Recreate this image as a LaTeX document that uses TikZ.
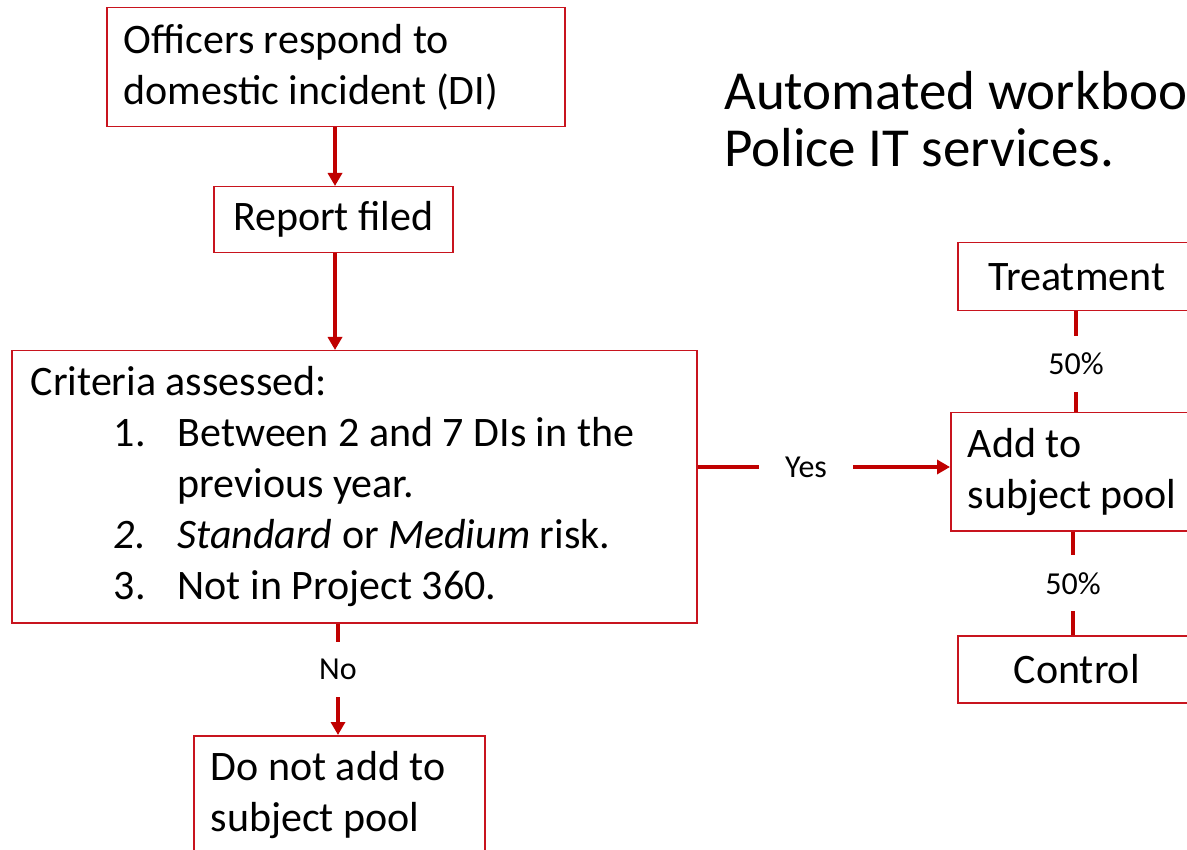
\documentclass[tikz,border=0pt]{standalone}
\usepackage{fontspec}
\setmainfont{Carlito}
\usetikzlibrary{arrows.meta,calc}
\definecolor{dred}{RGB}{192,0,0}
\definecolor{bred}{RGB}{200,20,30}
\begin{document}
\begin{tikzpicture}[x=1pt,y=-1pt,
  box/.style={draw=bred, line width=1.5pt, rectangle, anchor=north west, inner ysep=0pt, inner xsep=17pt,
    font=\fontsize{42}{51}\selectfont, align=flush left},
  conn/.style={draw=dred, line width=4pt},
  arr/.style={conn, -{Triangle[length=13pt,width=14pt]}},
  lbl/.style={fill=white, font=\fontsize{32}{38}\selectfont, text=black, inner xsep=26pt, inner ysep=17pt}
]
\useasboundingbox (0,0) rectangle (1187,850);
\clip (0,0) rectangle (1187,850);
\fill[white] (0,0) rectangle (1187,850);

\node[box, minimum width=458pt, minimum height=119pt, text width=424pt] (di) at (106,7)
  {Officers respond to\\domestic incident (DI)};
\node[box, minimum width=239pt, minimum height=66pt, align=center, inner xsep=0pt] (rep) at (213,186)
  {Report filed};
\node[box, minimum width=685pt, minimum height=272pt, text width=647pt, inner xsep=19pt] (crit) at (11,350)
  {Criteria assessed:\\
   \hspace*{83pt}\makebox[64pt][l]{1.}Between 2 and 7 DIs in the\\
   \hspace*{147pt}previous year.\\
   \hspace*{83pt}\makebox[64pt][l]{\itshape 2.}\textit{Standard} or \textit{Medium} risk.\\
   \hspace*{83pt}\makebox[64pt][l]{3.}Not in Project 360.};
\node[box, minimum width=249pt, minimum height=118pt, text width=215pt] (add) at (950,412)
  {Add to\\subject pool};
\node[box, minimum width=238pt, minimum height=68pt, align=center, inner xsep=0pt] (treat) at (957,242)
  {Treatment};
\node[box, minimum width=238pt, minimum height=67pt, align=center, inner xsep=0pt] (ctrl) at (957,635)
  {Control};
\node[box, minimum width=291pt, minimum height=119pt, text width=257pt] (no) at (193,735)
  {Do not add to\\subject pool};

\node[anchor=base west, align=flush left, font=\fontsize{55}{57}\selectfont, inner sep=0pt] (title) at (724,167)
  {Automated workbook\\Police IT services.};

\draw[arr] (di.south -| 335,0) -- (rep.north -| 335,0);
\draw[arr] (rep.south -| 335,0) -- (crit.north -| 335,0);
\draw[arr] (crit.east |- 0,467) -- node[lbl, pos=0.43]{Yes} (add.west |- 0,467);
\draw[arr] (crit.south -| 338,0) -- node[lbl, pos=0.41]{No} (no.north -| 338,0);
\draw[conn] (treat.south -| 1076,0) -- node[lbl, pos=0.52]{50\%} (add.north -| 1076,0);
\draw[conn] (add.south -| 1073,0) -- node[lbl, pos=0.5]{50\%} (ctrl.north -| 1073,0);
\end{tikzpicture}
\end{document}
